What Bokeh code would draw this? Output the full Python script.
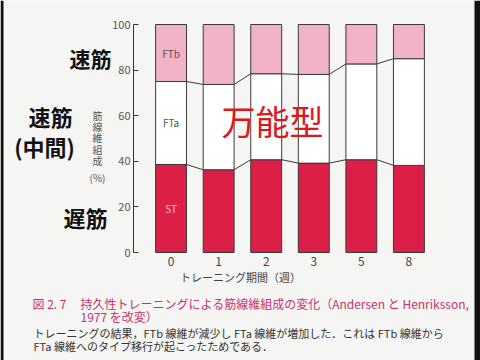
from bokeh.plotting import figure
from bokeh.models import Range1d, FixedTicker, Label, LinearAxis, BoxAnnotation
from bokeh.embed import file_html
from bokeh.resources import INLINE
from bokeh.core.properties import value

# ---- data ----
weeks = ["0", "1", "2", "3", "5", "8"]
st_pct = [38.6, 36.3, 40.7, 39.2, 40.7, 38.2]
fta_pct = [36.4, 37.4, 37.7, 38.9, 42.0, 46.8]
ftb_pct = [25.0, 26.3, 21.6, 21.9, 17.3, 15.0]
y_ticks = [0, 20, 40, 60, 80, 100]
y_title_chars = ["筋", "線", "維", "組", "成"]

FONT = "Noto Sans CJK JP"
BG = "#f5f5f3"
PINK = "#f1b1c7"
RED = "#dc1f47"
EDGE = "#3a3a3a"

W, H = 480, 360
# layout geometry in reference-image pixels
AXIS_X = -0.79          # data x where the y axis sits
PXU = 313.0 / 6.58      # pixels per x unit
PYU = 2.28              # pixels per y unit
REF_AXIS_PX = 133.0
REF_ZERO_PY = 252.0
XS = AXIS_X - REF_AXIS_PX / PXU
XE = AXIS_X + (W - REF_AXIS_PX) / PXU
YS = -(H - REF_ZERO_PY) / PYU
YE = REF_ZERO_PY / PYU

def dx(px):
    return AXIS_X + (px - REF_AXIS_PX) / PXU
def dy(py):
    return (REF_ZERO_PY - py) / PYU

p = figure(width=W, height=H, output_backend="svg", toolbar_location=None,
           x_range=Range1d(XS, XE), y_range=Range1d(YS, YE),
           x_axis_type=None, y_axis_type=None,
           min_border=0, min_border_left=0, min_border_right=0,
           min_border_top=0, min_border_bottom=0)
p.background_fill_color = BG
p.border_fill_color = BG
p.outline_line_color = None
p.grid.visible = False

# dark video-frame edges
p.add_layout(BoxAnnotation(left=XS, right=dx(3), fill_color="#111111", fill_alpha=1, line_color=None))
p.add_layout(BoxAnnotation(left=dx(474), right=XE, fill_color="#111111", fill_alpha=1, line_color=None))

xs = list(range(len(weeks)))
st_top = st_pct
fta_top = [s + a for s, a in zip(st_pct, fta_pct)]
ftb_top = [t + b for t, b in zip(fta_top, ftb_pct)]
BW = 0.65

p.vbar(x=xs, bottom=0, top=st_top, width=BW, fill_color=RED, line_color=EDGE, line_width=1)
p.vbar(x=xs, bottom=st_top, top=fta_top, width=BW, fill_color="white", line_color=EDGE, line_width=1)
p.vbar(x=xs, bottom=fta_top, top=ftb_top, width=BW, fill_color=PINK, line_color=EDGE, line_width=1)

# connecting lines between bars
x0 = [i + BW / 2 for i in xs[:-1]]
x1 = [i + 1 - BW / 2 for i in xs[:-1]]
p.segment(x0=x0, y0=st_top[:-1], x1=x1, y1=st_top[1:], line_color=EDGE, line_width=1)
p.segment(x0=x0, y0=fta_top[:-1], x1=x1, y1=fta_top[1:], line_color=EDGE, line_width=1)

# in-bar labels (first bar)
p.text(x=[xs[0]], y=[fta_top[0] + ftb_pct[0] / 2], text=["FTb"], text_font=value(FONT),
       text_font_size="10px", text_color="#555555", text_align="center", text_baseline="middle")
p.text(x=[xs[0]], y=[st_top[0] + fta_pct[0] / 2], text=["FTa"], text_font=value(FONT),
       text_font_size="10px", text_color="#555555", text_align="center", text_baseline="middle")
p.text(x=[xs[0]], y=[st_pct[0] / 2], text=["ST"], text_font=value(FONT),
       text_font_size="10px", text_color="#f7b8c8", text_align="center", text_baseline="middle")

# axes (fixed inside the full-canvas frame)
xa = LinearAxis(fixed_location=0)
xa.ticker = FixedTicker(ticks=xs)
xa.major_label_overrides = {i: w for i, w in zip(xs, weeks)}
xa.axis_line_color = None
xa.major_tick_line_color = None
xa.major_tick_in = 0
xa.major_tick_out = 0
xa.minor_tick_line_color = None
xa.major_label_standoff = 4
xa.major_label_text_font = FONT
xa.major_label_text_font_size = "12px"
xa.major_label_text_color = "#444444"
xa.axis_label = "トレーニング期間（週）"
xa.axis_label_text_font = FONT
xa.axis_label_text_font_size = "11px"
xa.axis_label_text_font_style = "normal"
xa.axis_label_text_color = "#444444"
xa.axis_label_standoff = 0
p.add_layout(xa, "below")

ya = LinearAxis(fixed_location=AXIS_X, bounds=(0, 100))
ya.ticker = FixedTicker(ticks=y_ticks)
ya.axis_line_color = "#333333"
ya.major_tick_line_color = "#333333"
ya.major_tick_in = 5
ya.major_tick_out = 0
ya.minor_tick_line_color = None
ya.major_label_standoff = 3
ya.major_label_text_font = FONT
ya.major_label_text_font_size = "11px"
ya.major_label_text_color = "#555555"
p.add_layout(ya, "left")

def label(px, py, text, size, color="#111111", style="normal", align="center",
          baseline="middle"):
    p.add_layout(Label(x=dx(px), y=dy(py), x_units="data", y_units="data", text=text,
                       text_font=FONT, text_font_size=size, text_color=color,
                       text_font_style=style, text_align=align,
                       text_baseline=baseline))

# left-side category labels
label(90, 57, "速筋", "21px", style="bold")
label(50, 115, "速筋", "22px", style="bold")
label(44, 145, "(中間)", "22px", style="bold")
label(85, 216, "遅筋", "22px", style="bold")

# vertical y axis title, one character per row
p.text(x=[dx(97)] * len(y_title_chars),
       y=[dy(115 + 11.2 * i) for i in range(len(y_title_chars))],
       text=y_title_chars, text_font=value(FONT), text_font_size="10px",
       text_color="#555555", text_align="center", text_baseline="middle")
label(97, 177, "(%)", "10px", color="#555555")

# big red annotation
label(272, 120, "万能型", "34px", color="#e0161e")

# caption
CAP = "#c8336f"
label(32, 303, "図 2. 7", "12px", color=CAP, align="left")
label(80, 303, "持久性トレーニングによる筋線維組成の変化（Andersen と Henriksson,", "12px",
      color=CAP, align="left")
label(80, 316, "1977 を改変）", "12px", color=CAP, align="left")
label(33, 332, "トレーニングの結果，FTb 線維が減少し FTa 線維が増加した．これは FTb 線維から",
      "11px", color="#333333", align="left")
label(33, 345, "FTa 線維へのタイプ移行が起こったためである．", "11px", color="#333333", align="left")

open("out.html", "w").write(file_html(p, INLINE))
